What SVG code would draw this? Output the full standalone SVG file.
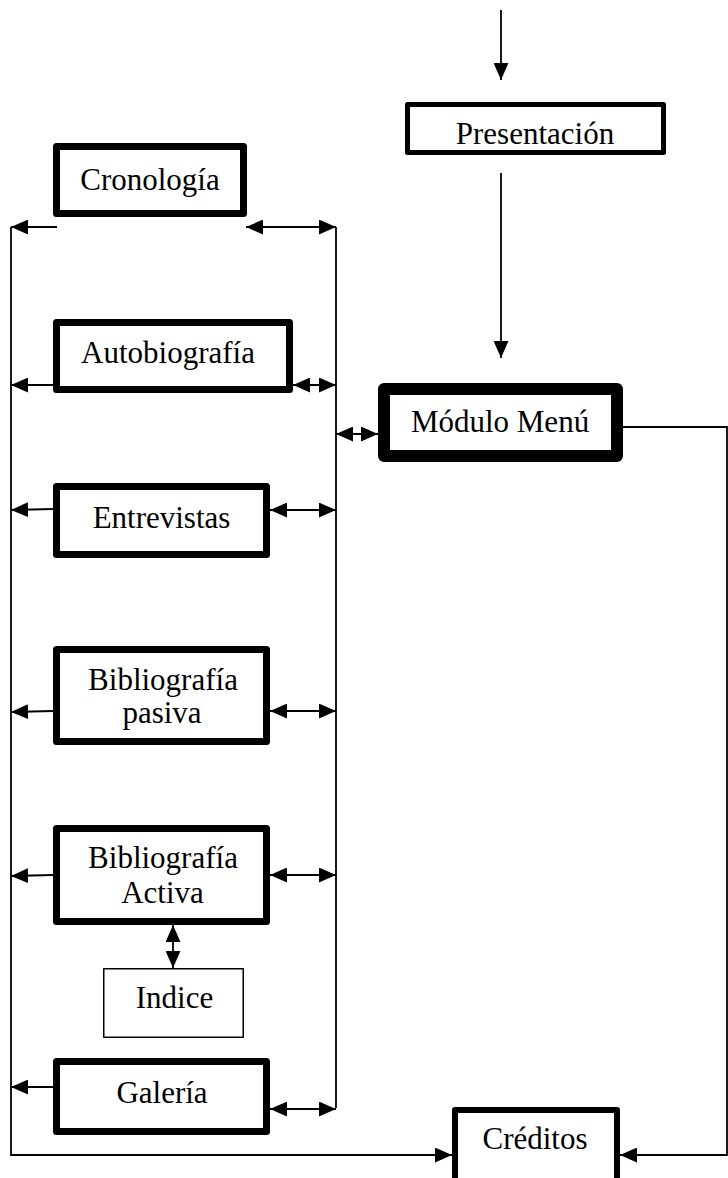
<svg xmlns="http://www.w3.org/2000/svg" width="728" height="1178" viewBox="0 0 728 1178">
<style>
.box{fill:#fff;stroke:#000;stroke-linejoin:round}
.t{font-family:"Liberation Serif","Times New Roman",serif;font-size:31px;fill:#000;text-anchor:middle}
.c{fill:none;stroke:#000;stroke-width:1.8}
</style>
<defs>
<marker id="ah" markerUnits="userSpaceOnUse" markerWidth="17" markerHeight="15" refX="16" refY="7" orient="auto-start-reverse" viewBox="0 0 16 14">
<path d="M0,0 L16,7 L0,14 z" fill="#000"/>
</marker>
</defs>
<rect width="728" height="1178" fill="#fff"/>
<g id="connectors">
<line class="c" x1="501" y1="10" x2="501" y2="80" marker-end="url(#ah)"/>
<line class="c" x1="501" y1="173" x2="501" y2="358" marker-end="url(#ah)"/>
<polyline class="c" points="11,227 11,1155 452,1155" marker-end="url(#ah)"/>
<line class="c" x1="336" y1="227" x2="336" y2="1108"/>
<line class="c" x1="57" y1="227" x2="11" y2="227" marker-end="url(#ah)"/>
<line class="c" x1="246" y1="227" x2="336" y2="227" marker-start="url(#ah)" marker-end="url(#ah)"/>
<line class="c" x1="53" y1="385" x2="11" y2="385" marker-end="url(#ah)"/>
<line class="c" x1="293" y1="385" x2="336" y2="385" marker-start="url(#ah)" marker-end="url(#ah)"/>
<line class="c" x1="53" y1="509" x2="11" y2="510" marker-end="url(#ah)"/>
<line class="c" x1="270" y1="510" x2="336" y2="510" marker-start="url(#ah)" marker-end="url(#ah)"/>
<line class="c" x1="53" y1="711" x2="11" y2="712" marker-end="url(#ah)"/>
<line class="c" x1="270" y1="711" x2="336" y2="711" marker-start="url(#ah)" marker-end="url(#ah)"/>
<line class="c" x1="53" y1="875" x2="11" y2="876" marker-end="url(#ah)"/>
<line class="c" x1="270" y1="875" x2="336" y2="875" marker-start="url(#ah)" marker-end="url(#ah)"/>
<line class="c" x1="53" y1="1087" x2="11" y2="1087" marker-end="url(#ah)"/>
<line class="c" x1="270" y1="1109" x2="336" y2="1109" marker-start="url(#ah)" marker-end="url(#ah)"/>
<line class="c" x1="336" y1="434" x2="378" y2="434" marker-start="url(#ah)" marker-end="url(#ah)"/>
<line class="c" x1="173" y1="925" x2="173" y2="968" marker-start="url(#ah)" marker-end="url(#ah)"/>
<polyline class="c" points="623,427 727,427 727,1155 620,1155" marker-end="url(#ah)"/>
</g>
<g id="presentacion">
<rect class="box" x="407.5" y="104.5" width="256" height="48" stroke-width="5"/>
<text class="t" x="535" y="144">Presentación</text>
</g>
<g id="cronologia">
<rect class="box" x="56.5" y="146.5" width="187" height="67" stroke-width="7"/>
<text class="t" x="150" y="190">Cronología</text>
</g>
<g id="autobiografia">
<rect class="box" x="56.5" y="322.5" width="233" height="67" stroke-width="7"/>
<text class="t" x="168" y="363">Autobiografía</text>
</g>
<g id="modulo-menu">
<rect class="box" x="384" y="389" width="233" height="67" stroke-width="12"/>
<text class="t" x="500" y="432">Módulo Menú</text>
</g>
<g id="entrevistas">
<rect class="box" x="56.5" y="486.5" width="210" height="68" stroke-width="7"/>
<text class="t" x="161.5" y="528">Entrevistas</text>
</g>
<g id="bibliografia-pasiva">
<rect class="box" x="56.5" y="649.5" width="210" height="92" stroke-width="7"/>
<text class="t" x="163" y="690">Bibliografía</text>
<text class="t" x="162" y="723">pasiva</text>
</g>
<g id="bibliografia-activa">
<rect class="box" x="56.5" y="828.5" width="210" height="93" stroke-width="7"/>
<text class="t" x="163" y="868">Bibliografía</text>
<text class="t" x="162.5" y="903">Activa</text>
</g>
<g id="indice">
<rect class="box" x="103.75" y="968.75" width="139.5" height="68.5" stroke-width="1.5"/>
<text class="t" x="174.5" y="1008">Indice</text>
</g>
<g id="galeria">
<rect class="box" x="56.5" y="1061.5" width="210" height="70" stroke-width="7"/>
<text class="t" x="162" y="1103">Galería</text>
</g>
<g id="creditos">
<rect class="box" x="455" y="1110" width="162" height="80" stroke-width="6"/>
<text class="t" x="535" y="1149">Créditos</text>
</g>
</svg>
